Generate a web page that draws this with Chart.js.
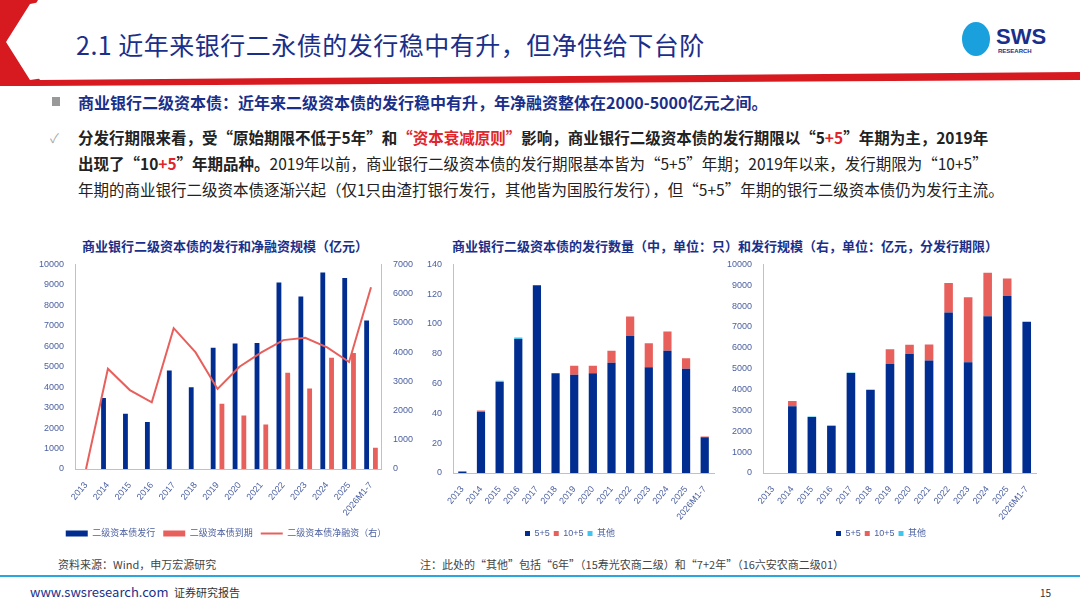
<!DOCTYPE html>
<html><head><meta charset="utf-8">
<script src="https://cdn.jsdelivr.net/npm/chart.js@4"></script>
<style>
body{margin:0;width:1080px;height:608px;position:relative;background:#fff;font-family:"Noto Sans CJK SC","Noto Sans",sans-serif;overflow:hidden}
.abs{position:absolute}
.t1{left:76px;top:26px;font-size:25px;color:#1a2f8a;letter-spacing:0.5px}
.b{font-size:15.5px;line-height:26px}
.ct{font-size:13px;font-weight:bold;color:#1a2f8a;text-align:center}
.src{font-size:11px;color:#444}
</style></head><body>
<svg class="abs" style="left:0;top:0" width="1080" height="90">
<polygon points="0,0 38,0 14,42 40,80 1080,72 1080,80 34,86 0,86" fill="#d71920"/>
<polygon points="30,4 40,2 18,42 44,78 30,80 6,42" fill="#fff"/>
</svg>
<div class="abs t1">2.1 近年来银行二永债的发行稳中有升，但净供给下台阶</div>
<div class="abs" style="left:962px;top:22px;width:28px;height:34px;border-radius:50%;background:#1aa0dc"></div>
<div class="abs" style="left:996px;top:24px;font:bold 22px 'Liberation Sans';color:#1a2f8a">SWS</div>
<div class="abs" style="left:998px;top:48px;font:bold 6px 'Liberation Sans';color:#1a2f8a">RESEARCH</div>
<div class="abs" style="left:52px;top:97px;width:8px;height:9px;background:#999"></div>
<div class="abs b" style="left:78px;top:89px;font-weight:bold;color:#1a2f8a;font-size:16px">商业银行二级资本债：近年来二级资本债的发行稳中有升，年净融资整体在2000-5000亿元之间。</div>
<div class="abs" style="left:50px;top:128px;color:#aaa;font-size:13px">✓</div>
<div class="abs b" style="left:78px;top:124px;width:970px;color:#222">
<b>分发行期限来看，受“原始期限不低于5年”和<span style="color:#e0262b">“资本衰减原则”</span>影响，商业银行二级资本债的发行期限以“5<span style="color:#e0262b">+5</span>”年期为主，2019年</b><br><b>出现了“10<span style="color:#e0262b">+5</span>”年期品种。</b>2019年以前，商业银行二级资本债的发行期限基本皆为“5+5”年期；2019年以来，发行期限为“10+5”<br>年期的商业银行二级资本债逐渐兴起（仅1只由渣打银行发行，其他皆为国股行发行），但“5+5”年期的银行二级资本债仍为发行主流。</div>
<div class="abs ct" style="left:40px;top:236px;width:370px">商业银行二级资本债的发行和净融资规模（亿元）</div>
<div class="abs ct" style="left:415px;top:236px;width:620px">商业银行二级资本债的发行数量（中，单位：只）和发行规模（右，单位：亿元，分发行期限）</div>
<div class="abs" style="left:36px;top:256px;width:380px;height:292px"><canvas id="c1"></canvas></div>
<div class="abs" style="left:424px;top:256px;width:292px;height:292px"><canvas id="c2"></canvas></div>
<div class="abs" style="left:724px;top:256px;width:314px;height:292px"><canvas id="c3"></canvas></div>
<div class="abs src" style="left:58px;top:556px">资料来源：Wind，申万宏源研究</div>
<div class="abs src" style="left:420px;top:556px">注：此处的“其他”包括“6年”（15寿光农商二级）和“7+2年”（16六安农商二级01）</div>
<div class="abs" style="left:0;top:575px;width:1080px;height:2px;background:#2aa6df"></div>
<div class="abs" style="left:30px;top:582px;font-size:13px;color:#1a2f8a">www.swsresearch.com <span style="font-size:11px;color:#333">&nbsp;证券研究报告</span></div>
<div class="abs" style="left:1040px;top:585px;font-size:10px;color:#333">15</div>
<script>
const years = ['2013','2014','2015','2016','2017','2018','2019','2020','2021','2022','2023','2024','2025','2026M1-7'];
const issue = [0,3470,2700,2300,4820,3990,5930,6130,6160,9110,8430,9600,9330,7260];
const mature = [0,0,0,0,0,0,3190,2620,2170,4700,3940,5440,5670,1040];
const netFin = [0,3430,2700,2280,4820,3990,2740,3500,3990,4410,4490,4160,3660,6220];
const cnt55 = [1,41,61,90,126,67,66,67,74,92,71,82,70,24];
const cnt105 = [0,1,0,0,0,0,6,5,8,13,16,13,7,0.5];
const cntOther = [0,0,1,1,0,0,0,0,0,0,0,0,0,0];
const amt55 = [0,3200,2680,2250,4800,3990,5230,5700,5390,7700,5310,7520,8480,7250];
const amt105 = [0,250,0,0,0,0,700,450,770,1410,3120,2080,850,0];
const amtOther = [0,0,30,40,20,0,0,0,0,0,0,0,0,0];

const navy = '#002d8f', red = '#e8605c', cyan = '#3ec6f0', tick = '#4a5fa0';
Chart.defaults.font.family = "'Liberation Sans', 'Noto Sans CJK SC'";
Chart.defaults.font.size = 10;
Chart.defaults.color = tick;
Chart.defaults.animation = false;
const xAxis = {grid:{display:false}, border:{color:'#b8c0dc'}, ticks:{maxRotation:50, minRotation:50, autoSkip:false, font:{size:9}}};
const yAxis = (max, step) => ({min:0, max:max, grid:{display:false}, border:{color:'#b8c0dc'}, ticks:{stepSize:step, font:{size:9}, callback:v => v}});
const legend = {position:'bottom', labels:{boxWidth:8, boxHeight:6, font:{size:9}, padding:8}};

new Chart(document.getElementById('c1'), {
  data:{labels:years, datasets:[
    {type:'bar', label:'二级资本债发行', data:issue, backgroundColor:navy, barPercentage:0.55, order:1, pointStyle:'rect'},
    {type:'bar', label:'二级资本债到期', data:mature, backgroundColor:red, barPercentage:0.55, order:1, pointStyle:'rect'},
    {type:'line', label:'二级资本债净融资（右）', data:netFin, yAxisID:'y1', borderColor:red, backgroundColor:red, borderWidth:2, pointRadius:0, order:0, pointStyle:'line'}
  ]},
  options:{responsive:true, maintainAspectRatio:false,
    plugins:{legend:{...legend, labels:{...legend.labels, usePointStyle:true, pointStyleWidth:22, boxHeight:6,
      sort:(a, b) => a.datasetIndex - b.datasetIndex}}},
    scales:{x:xAxis, y:yAxis(10000,1000), y1:{...yAxis(7000,1000), position:'right'}}}
});

function stack(id, a, b, c, max, step) {
  new Chart(document.getElementById(id), {
    type:'bar',
    data:{labels:years, datasets:[
      {label:'5+5', data:a, backgroundColor:navy},
      {label:'10+5', data:b, backgroundColor:red},
      {label:'其他', data:c, backgroundColor:cyan}
    ]},
    options:{responsive:true, maintainAspectRatio:false, datasets:{bar:{barPercentage:0.55, categoryPercentage:0.8}},
      plugins:{legend:{...legend, labels:{...legend.labels, boxWidth:5, boxHeight:5, padding:4}}},
      scales:{x:{...xAxis, stacked:true}, y:{...yAxis(max,step), stacked:true}}}
  });
}
stack('c2', cnt55, cnt105, cntOther, 140, 20);
stack('c3', amt55, amt105, amtOther, 10000, 1000);
</script>
</body></html>
